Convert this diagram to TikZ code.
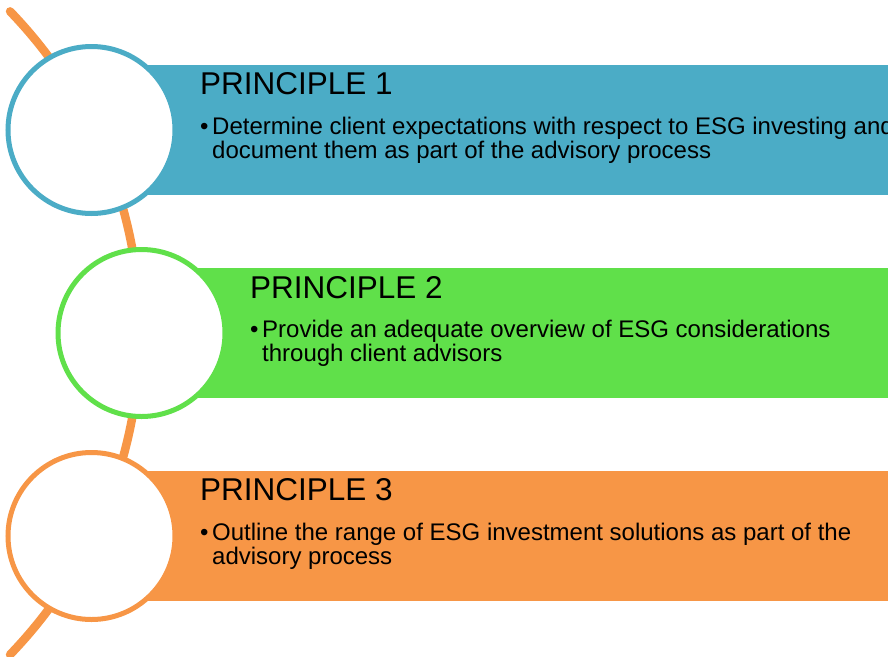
\documentclass[tikz,border=0pt]{standalone}
\usepackage{fontspec}
\setmainfont{Liberation Sans}

\newlength{\du}
\setlength{\du}{1pt}

\definecolor{bandblue}{rgb}{0.294118, 0.674510, 0.776471}
\definecolor{bandgreen}{rgb}{0.376471, 0.878431, 0.290196}
\definecolor{bandorange}{rgb}{0.968627, 0.588235, 0.274510}

\tikzset{
  ring/.style={circle, draw=#1, fill=white, line width=5.000000\du, inner sep=0pt, minimum size=167.000000\du},
  headtext/.style={anchor=base west, inner sep=0pt, font=\fontsize{31.5}{36}\selectfont},
  bodytext/.style={anchor=base west, inner sep=0pt, font=\fontsize{24}{26}\selectfont},
}

\begin{document}
\begin{tikzpicture}
\pgftransformxscale{1.000000}
\pgftransformyscale{-1.000000}
\useasboundingbox (0.000000\du,0.000000\du) rectangle (888.000000\du,656.000000\du);
% backbone arc
\coordinate (arctop) at (10.050000\du,11.370000\du);
\draw[bandorange, line width=8.500000\du, line cap=round] (arctop) arc[start angle=-44, end angle=44, radius=463.000000\du];
% bands
\fill[bandblue] (140.000000\du,65.000000\du) rectangle (888.000000\du,195.000000\du);
\fill[bandgreen] (190.000000\du,268.000000\du) rectangle (888.000000\du,398.000000\du);
\fill[bandorange] (140.000000\du,471.000000\du) rectangle (888.000000\du,601.000000\du);
% rings
\node[ring=bandblue] (ring1) at (91.500000\du,130.000000\du){};
\node[ring=bandgreen] (ring2) at (141.500000\du,333.000000\du){};
\node[ring=bandorange] (ring3) at (91.500000\du,536.000000\du){};
% setfont left to latex
\node[headtext] (head1) at (200.000000\du,94.000000\du){PRINCIPLE 1};
\node[bodytext] (dot1) at (200.000000\du,134.000000\du){\textbullet};
\node[bodytext] (text1a) at (212.000000\du,134.000000\du){Determine client expectations with respect to ESG investing and};
\node[bodytext] (text1b) at (212.000000\du,158.000000\du){document them as part of the advisory process};
% setfont left to latex
\node[headtext] (head2) at (250.000000\du,298.000000\du){PRINCIPLE 2};
\node[bodytext] (dot2) at (250.000000\du,337.000000\du){\textbullet};
\node[bodytext] (text2a) at (262.000000\du,337.000000\du){Provide an adequate overview of ESG considerations};
\node[bodytext] (text2b) at (262.000000\du,361.000000\du){through client advisors};
% setfont left to latex
\node[headtext] (head3) at (200.000000\du,500.000000\du){PRINCIPLE 3};
\node[bodytext] (dot3) at (200.000000\du,540.000000\du){\textbullet};
\node[bodytext] (text3a) at (212.000000\du,540.000000\du){Outline the range of ESG investment solutions as part of the};
\node[bodytext] (text3b) at (212.000000\du,564.000000\du){advisory process};
\end{tikzpicture}
\end{document}
